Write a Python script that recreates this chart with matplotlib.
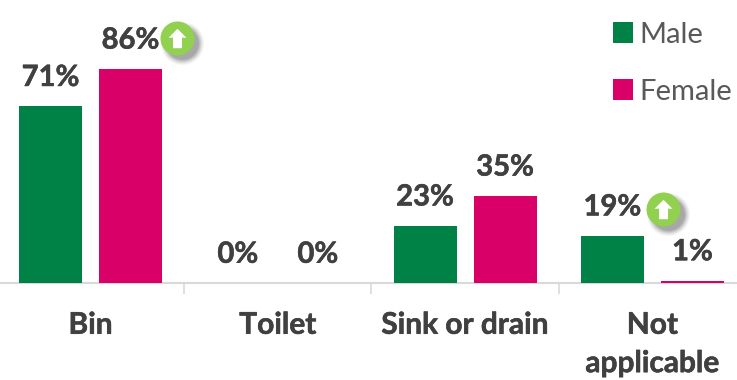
import matplotlib
matplotlib.use("Agg")
import matplotlib.pyplot as plt
import matplotlib.patheffects as pe
import numpy as np
from matplotlib.path import Path

categories = ["Bin", "Toilet", "Sink or drain", "Not\napplicable"]
male = [71, 0, 23, 19]
female = [86, 0, 35, 1]
series_names = ["Male", "Female"]
# (category position, y in percent) of the up-arrow flags
flags = [(0.462, 98.4), (3.0566, 29.8)]

GREEN, PINK = "#008145", "#D90068"
TXT, LEG = "#404040", "#595959"
W, H = 737, 380
plt.rcParams["font.family"] = ["Lato", "DejaVu Sans"]
bold = [pe.withStroke(linewidth=0.4, foreground=TXT)]

fig = plt.figure(figsize=(W / 100, H / 100), dpi=100)
base = 283
ax = fig.add_axes([0, 1 - base / H, 1, base / H])
step = 187.3
ax.set_xlim(-90.5 / step, (W - 90.5) / step)
ax.set_ylim(0, base / 2.49)

x = np.arange(len(categories))
off, bw = 40 / step, 63 / step
b1 = ax.bar(x - off, male, bw, color=GREEN, label=series_names[0], zorder=3)
b2 = ax.bar(x + off, female, bw, color=PINK, label=series_names[1], zorder=3)
for bars, vals in ((b1, male), (b2, female)):
    for r, v in zip(bars, vals):
        ax.annotate(f"{v}%", (r.get_x() + r.get_width() / 2, v), xytext=(0, 11),
                    textcoords="offset points", ha="center", va="bottom",
                    fontsize=21, fontweight="bold", color=TXT, zorder=5, path_effects=bold)

arrow = Path([(-0.55, 0.05), (0, 0.6), (0.55, 0.05), (0.28, 0.05), (0.28, -0.6),
              (-0.28, -0.6), (-0.28, 0.05), (-0.55, 0.05)], closed=True)
for cx, yv in flags:
    for s, a in ((31, .05), (29.5, .06), (28, .08), (26.5, .10), (25, .12), (23.5, .14)):
        ax.plot([cx + 5 / step], [yv - 5 / 2.49], "o", ms=s, mfc="#404040", mec="none",
                alpha=a, zorder=6, clip_on=False)
    ax.plot([cx], [yv], "o", ms=24.5, mfc="#92D050", mec="none", zorder=7)
    ax.plot([cx], [yv], marker=arrow, ms=14, mfc="white", mec="none", zorder=8)

for s in ("top", "left", "right"):
    ax.spines[s].set_visible(False)
ax.spines["bottom"].set_color("#D9D9D9")
ax.spines["bottom"].set_linewidth(1.5)
ax.set_yticks([])
ax.set_xticks(x)
ax.set_xticklabels(categories, fontsize=21.5, fontweight="bold", color=TXT, linespacing=1.45,
                   path_effects=bold, va="top")
ax.tick_params(axis="x", length=0, pad=20)
ax.set_xticks(x[:-1] + 0.5, minor=True)
ax.tick_params(axis="x", which="minor", length=8, width=1.2, color="#D9D9D9")

leg = ax.legend(loc="upper left", bbox_to_anchor=(591 / W, 1.0), frameon=False, fontsize=21,
                labelcolor=LEG, handlelength=0.7, handleheight=0.7, handletextpad=0.2,
                labelspacing=1.05, borderpad=0.75, borderaxespad=0)
fig.savefig("out.png", dpi=100)
